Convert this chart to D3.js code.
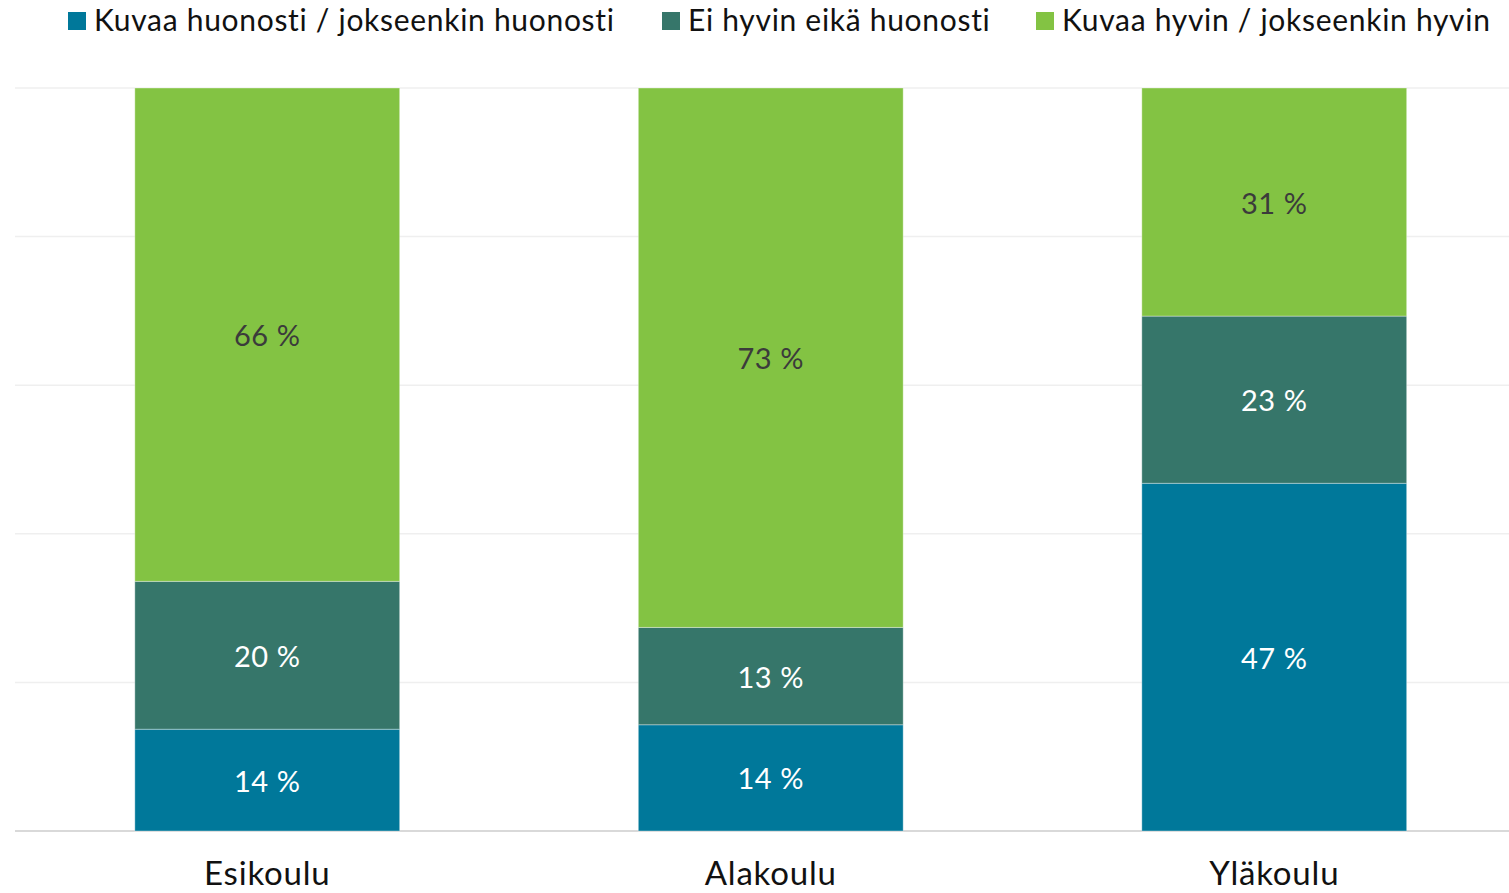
<!DOCTYPE html>
<html>
<head>
<meta charset="utf-8">
<script src="https://cdn.jsdelivr.net/npm/d3@7.9.0/dist/d3.min.js"></script>
<style>
  body { margin: 0; background: #fff; overflow: hidden; }
  svg { display: block; font-family: Lato, "Noto Sans", sans-serif; }
</style>
</head>
<body>
<svg id="chart" width="1509" height="893"></svg>
<script>
const categories = ['Esikoulu', 'Alakoulu', 'Yläkoulu'];
const seriesNames = ['Kuvaa huonosti / jokseenkin huonosti', 'Ei hyvin eikä huonosti', 'Kuvaa hyvin / jokseenkin hyvin'];
const seriesColors = ['#00789a', '#36766a', '#83c343'];
const labelColors = ['#ffffff', '#ffffff', '#3b3b3b'];
// percentages per category, in series order
const huonosti = [13.7, 14.3, 46.8];
const neutraali = [19.9, 13.1, 22.5];
const hyvin = [66.4, 72.6, 30.7];
const gridTicks = [0, 20, 40, 60, 80, 100];

const rows = categories.map((c, i) => ({
    cat: c,
    s0: huonosti[i],
    s1: neutraali[i],
    s2: hyvin[i]
}));

const svg = d3.select('#chart');
const plotTop = 88, plotBottom = 831;

const x = d3.scaleBand()
    .domain(categories)
    .range([15.5, 1526])
    .paddingInner(0.474)
    .paddingOuter(0.237);

const y = d3.scaleLinear().domain([0, 100]).range([plotBottom, plotTop]);

// gridlines
svg.append('g')
    .selectAll('line')
    .data(gridTicks)
    .join('line')
    .attr('x1', 15)
    .attr('x2', 1509)
    .attr('y1', d => y(d))
    .attr('y2', d => y(d))
    .attr('stroke', d => d === 0 ? '#d9d9d9' : '#efefef')
    .attr('stroke-width', d => d === 0 ? 2 : 1.5);

const stack = d3.stack().keys(['s0', 's1', 's2']);
const layers = stack(rows);

const g = svg.append('g');
layers.forEach((layer, li) => {
    g.append('g')
        .selectAll('rect')
        .data(layer)
        .join('rect')
        .attr('x', d => x(d.data.cat))
        .attr('width', x.bandwidth())
        .attr('y', d => y(d[1]))
        .attr('height', d => y(d[0]) - y(d[1]))
        .attr('fill', seriesColors[li])
        .attr('stroke', 'rgba(255,255,255,0.35)')
        .attr('stroke-width', 1);

    g.append('g')
        .selectAll('text')
        .data(layer)
        .join('text')
        .attr('x', d => x(d.data.cat) + x.bandwidth() / 2)
        .attr('y', d => (y(d[0]) + y(d[1])) / 2)
        .attr('text-anchor', 'middle')
        .attr('dominant-baseline', 'central')
        .attr('font-size', 29)
        .attr('letter-spacing', 0.6)
        .attr('fill', labelColors[li])
        .text(d => Math.round(d[1] - d[0]) + ' %');
});

// x axis labels
svg.append('g')
    .selectAll('text')
    .data(categories)
    .join('text')
    .attr('x', d => x(d) + x.bandwidth() / 2)
    .attr('y', 885)
    .attr('text-anchor', 'middle')
    .attr('font-size', 33)
    .attr('letter-spacing', 0.8)
    .attr('fill', '#111')
    .text(d => d);

// legend
const legendX = [68, 662, 1036];
const legend = svg.append('g');
seriesNames.forEach((name, i) => {
    legend.append('rect')
        .attr('x', legendX[i])
        .attr('y', 12)
        .attr('width', 18)
        .attr('height', 18)
        .attr('fill', seriesColors[i]);
    legend.append('text')
        .attr('x', legendX[i] + 26)
        .attr('y', 31)
        .attr('font-size', 30)
        .attr('letter-spacing', 0.7)
        .attr('fill', '#111')
        .text(name);
});
</script>
</body>
</html>
